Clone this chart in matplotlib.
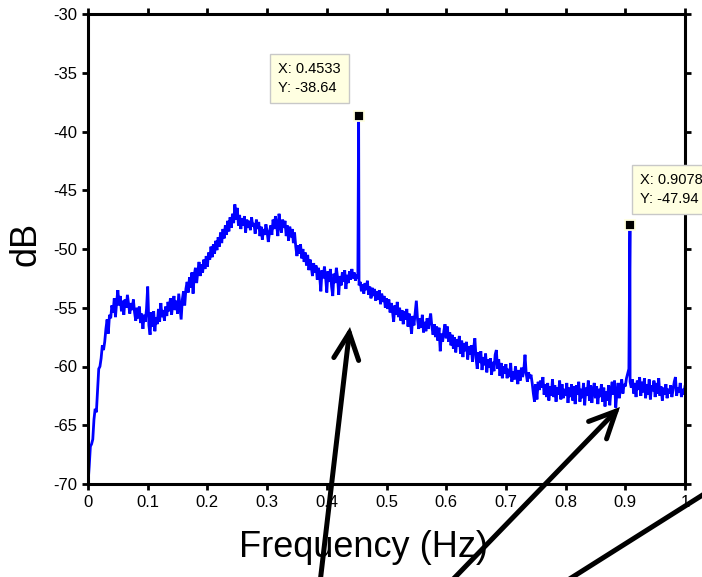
import numpy as np
import matplotlib
matplotlib.use('Agg')
import matplotlib.pyplot as plt
from matplotlib.patches import FancyArrowPatch
from matplotlib.lines import Line2D
from matplotlib.transforms import IdentityTransform

plt.rcParams['font.family'] = ['Liberation Sans', 'DejaVu Sans']

# Spectrum (dB) sampled every 0.002 Hz, one list per 0.1 Hz
db_00 = [-70.0, -68.5, -66.8, -66.6, -66.2, -64.5, -63.6, -63.9, -62.0, -60.2,
         -60.0, -59.3, -58.2, -58.6, -57.9, -56.8, -56.0, -57.2, -55.6, -55.9,
         -54.8, -55.4, -54.2, -55.8, -54.5, -53.5, -54.8, -54.0, -55.3, -54.4,
         -55.6, -54.3, -55.0, -53.9, -54.7, -55.5, -54.6, -55.2, -54.3, -55.4,
         -56.1, -55.0, -55.9, -54.9, -56.3, -55.5, -56.8, -55.6, -56.2, -55.1]
db_01 = [-53.2, -56.5, -57.3, -55.4, -56.6, -55.3, -57.0, -55.8, -56.4, -55.1,
         -56.2, -54.6, -55.8, -55.2, -56.1, -54.9, -55.7, -54.5, -55.3, -54.2,
         -55.6, -54.7, -54.0, -55.2, -54.4, -55.5, -53.8, -54.9, -56.0, -54.3,
         -53.6, -54.8, -53.4, -52.8, -53.7, -52.4, -53.3, -52.0, -53.8, -52.2,
         -51.6, -52.9, -51.9, -51.1, -52.3, -51.3, -52.0, -50.9, -51.7, -50.6]
db_02 = [-51.5, -50.3, -50.9, -49.8, -50.7, -49.6, -50.4, -49.3, -50.1, -49.0,
         -49.8, -48.6, -49.5, -48.3, -49.1, -48.0, -48.8, -47.6, -48.5, -47.3,
         -48.2, -47.0, -47.8, -46.2, -47.5, -46.5, -48.0, -47.1, -48.3, -47.4,
         -48.0, -47.2, -48.6, -47.5, -48.2, -47.6, -48.4, -47.3, -48.1, -47.8,
         -48.7, -47.5, -48.3, -47.7, -48.9, -48.1, -49.2, -48.3, -48.8, -47.9]
db_03 = [-48.5, -49.4, -48.6, -48.0, -48.8, -47.5, -48.3, -47.2, -48.0, -48.9,
         -47.0, -47.9, -48.6, -47.5, -48.2, -47.6, -48.9, -48.0, -49.3, -48.1,
         -49.0, -48.3, -49.5, -48.6, -49.8, -50.6, -49.7, -50.4, -49.6, -50.8,
         -50.0, -51.1, -50.3, -51.4, -50.5, -51.8, -50.9, -51.5, -52.3, -51.2,
         -52.0, -51.4, -52.6, -51.6, -52.3, -53.6, -51.8, -52.5, -51.5, -52.4]
db_04 = [-53.7, -51.9, -52.8, -51.7, -53.2, -54.0, -52.1, -52.9, -51.6, -52.4,
         -53.9, -52.3, -53.1, -52.0, -52.8, -51.8, -53.4, -52.2, -52.9, -51.9,
         -52.6, -51.7, -52.5, -52.0, -52.7, -52.2, -52.5, -53.1, -52.8, -53.6,
         -53.0, -53.8, -52.9, -53.5, -52.7, -53.9, -53.2, -54.2, -53.3, -54.0,
         -53.4, -54.4, -53.6, -54.3, -53.5, -54.7, -53.8, -54.5, -54.0, -55.0]
db_05 = [-54.2, -55.1, -54.3, -55.4, -54.6, -55.3, -56.2, -54.8, -55.6, -54.5,
         -55.8, -55.0, -56.1, -55.2, -56.4, -55.3, -56.0, -55.1, -56.6, -55.5,
         -56.3, -57.2, -55.7, -56.5, -55.4, -54.4, -56.0, -56.8, -55.9, -56.7,
         -55.6, -57.1, -56.2, -57.0, -55.9, -56.8, -56.1, -55.5, -56.6, -57.3,
         -56.4, -57.5, -56.6, -57.8, -56.7, -58.7, -57.2, -57.9, -57.0, -56.4]
db_06 = [-57.6, -56.6, -57.9, -57.1, -58.2, -57.3, -58.5, -57.5, -58.8, -57.7,
         -58.3, -57.4, -58.9, -57.8, -59.2, -58.0, -58.7, -57.9, -59.4, -58.3,
         -59.0, -58.2, -59.6, -58.4, -57.6, -59.3, -60.2, -58.8, -59.7, -58.7,
         -60.3, -59.2, -59.9, -58.9, -60.5, -59.4, -60.1, -59.3, -60.7, -59.6,
         -60.4, -59.0, -58.6, -60.2, -59.4, -60.8, -59.7, -61.0, -60.0, -60.6]
db_07 = [-59.8, -61.0, -60.2, -60.9, -59.7, -61.3, -60.4, -61.1, -60.0, -60.8,
         -61.5, -60.3, -61.2, -60.1, -60.9, -60.3, -59.0, -60.6, -61.3, -60.5,
         -61.0, -60.7, -61.4, -62.3, -63.0, -61.5, -62.8, -61.3, -62.0, -61.2,
         -61.8, -60.9, -62.4, -61.5, -62.6, -61.4, -62.9, -61.7, -62.5, -61.1,
         -62.6, -61.6, -63.0, -61.8, -62.4, -61.2, -62.8, -61.5, -62.7, -61.9]
db_08 = [-62.5, -61.4, -63.1, -61.8, -62.6, -61.5, -62.9, -61.7, -63.2, -61.6,
         -62.4, -61.3, -63.0, -61.9, -62.7, -61.4, -63.3, -61.8, -62.5, -61.2,
         -62.9, -61.6, -63.1, -62.0, -61.4, -62.7, -61.7, -63.2, -61.9, -62.6,
         -61.5, -63.0, -61.8, -63.4, -62.1, -62.9, -61.6, -63.3, -62.0, -61.3,
         -62.4, -61.2, -63.5, -62.2, -61.4, -62.7, -61.8, -61.1, -62.3, -61.5]
db_09 = [-61.7, -61.0, -60.6, -60.2, -61.3, -61.8, -61.1, -62.3, -61.4, -62.6,
         -61.2, -62.0, -60.9, -62.5, -61.3, -62.2, -61.0, -62.7, -61.5, -62.4,
         -61.1, -62.8, -61.6, -62.1, -61.2, -62.6, -61.4, -62.3, -61.0, -62.5,
         -61.7, -62.9, -61.8, -62.4, -61.5, -62.7, -61.9, -62.3, -61.6, -62.6,
         -62.0, -61.3, -60.9, -62.5, -61.8, -62.2, -61.4, -62.6, -61.9, -62.4]
db_10 = [-61.7]

peak_freq = [0.4533, 0.9078]
peak_db = [-38.64, -47.94]

x_ticks = [0, 0.1, 0.2, 0.3, 0.4, 0.5, 0.6, 0.7, 0.8, 0.9, 1.0]
x_tick_labels = ['0', '0.1', '0.2', '0.3', '0.4', '0.5', '0.6', '0.7', '0.8', '0.9', '1']
y_ticks = [-70, -65, -60, -55, -50, -45, -40, -35, -30]
y_tick_labels = ['-70', '-65', '-60', '-55', '-50', '-45', '-40', '-35', '-30']

psd_db = np.concatenate([db_00, db_01, db_02, db_03, db_04, db_05,
                         db_06, db_07, db_08, db_09, db_10])
freq = np.linspace(0.0, 1.0, len(psd_db))
f_all = np.concatenate([freq, peak_freq])
d_all = np.concatenate([psd_db, peak_db])
order = np.argsort(f_all, kind='stable')

W, H = 702, 577
fig = plt.figure(figsize=(W / 100, H / 100), dpi=100)
fig.patch.set_facecolor('white')
ax = fig.add_axes([88 / W, (H - 484) / H, 597 / W, 470 / H])

ax.plot(f_all[order], d_all[order], color='#0000ff', lw=2.0, solid_joinstyle='miter')
ax.plot(peak_freq, peak_db, 's', ms=7.5, mfc='black', mec='#ffffe1', mew=1.3,
        zorder=5, clip_on=False)

ax.set_xlim(0, 1)
ax.set_ylim(-70, -30)
ax.set_xticks(x_ticks)
ax.set_xticklabels(x_tick_labels)
ax.set_yticks(y_ticks)
ax.set_yticklabels(y_tick_labels)
for sp in ax.spines.values():
    sp.set_linewidth(2.2)
ax.tick_params(direction='out', length=4, width=2, top=True, right=True,
               labelsize=12, pad=4)

# data tips
for (fx, fy), (tx, ty) in zip(zip(peak_freq, peak_db), [(0.3183, -34.1), (0.9246, -43.5)]):
    ax.text(tx, ty, f'X: {fx}\nY: {fy}', fontsize=10.5, ha='left', va='top',
            linespacing=1.45, zorder=6,
            bbox=dict(boxstyle='square,pad=0.55', fc='#ffffe1', ec='#c8c8c8', lw=1))

# axis labels
fig.text(363 / W, (H - 557) / H, 'Frequency (Hz)', fontsize=26, ha='center', va='baseline')
fig.text(26 / W, 1 - 244 / H, 'dB', fontsize=26, rotation=90, ha='center', va='center')

# overlay arrows (figure pixel coords, origin bottom-left)
def px(x, y):
    return (x, H - y)

ident = IdentityTransform()
for (x0, y0), (x1, y1) in [((318, 600), (350, 327)), ((433, 600), (620, 407))]:
    arr = FancyArrowPatch(px(x0, y0), px(x1, y1), transform=ident,
                          arrowstyle='->,head_length=0.95,head_width=0.45',
                          mutation_scale=20, lw=3.6, color='black',
                          shrinkA=0, shrinkB=0, joinstyle='miter', capstyle='round')
    fig.add_artist(arr)
ln = Line2D([px(560, 585)[0], px(720, 484)[0]], [px(560, 585)[1], px(720, 484)[1]],
            transform=ident, color='black', lw=3.6)
fig.add_artist(ln)

fig.savefig('out.png', dpi=100)
